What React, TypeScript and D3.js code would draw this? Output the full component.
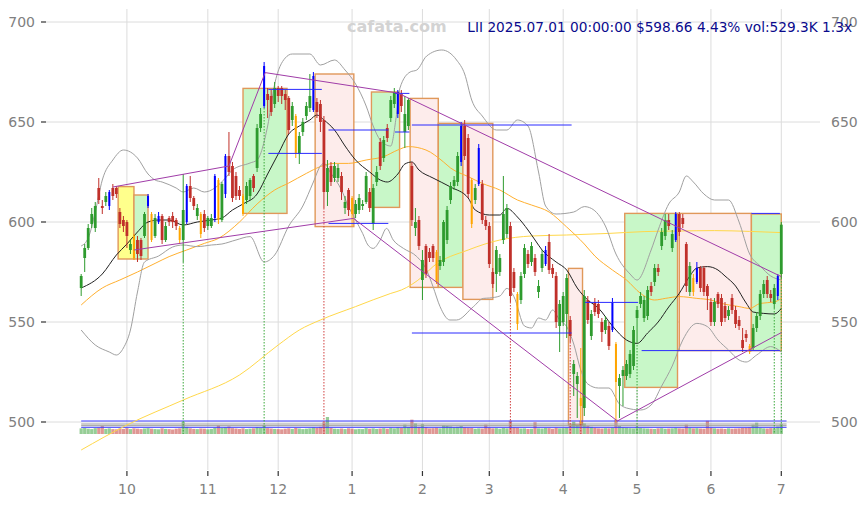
import React from "react";
import * as d3 from "d3";

// [open, high, low, close] per trading day, 2024-09-12 .. 2025-07-01
const ohlc: number[][] = [
[567,574,563,573],[582,589,575,587],[587,599,586,597],[599,607,597,604],[597,610,595,608],
[617,622,609,611],[608,611,604,607],[610,615,608,613],[608,616,606,615],[617,619,611,613],
[617,618,612,614],[605,607,597,599],[601,603,595,598],[600,601,587,593],[586,591,584,589],
[593,594,581,582],[591,593,580,584],[591,592,581,583],[593,605,592,604],[608,614,607,613],
[604,605,590,591],[593,604,592,602],[600,605,599,603],[603,604,589,591],[591,600,590,598],
[602,603,598,600],[603,605,597,600],[601,602,596,598],[597,598,589,591],[591,624,580,606],
[600,619,599,618],[618,623,610,612],[612,613,606,608],[603,609,601,607],[604,605,592,594],
[604,606,595,597],[598,603,596,602],[598,604,597,602],[602,624,600,623],[621,622,599,601],
[601,620,600,619],[614,634,612,633],[633,645,623,625],[628,630,610,612],[623,625,611,613],
[616,618,611,613],[613,614,603,604],[611,620,609,618],[613,622,611,621],[623,624,615,617],
[627,649,625,647],[647,657,645,654],[658,680,657,678],[664,667,652,661],[663,666,653,655],
[659,670,657,667],[667,668,660,663],[667,668,659,663],[664,666,656,661],[662,663,644,646],
[651,660,648,658],[653,654,632,634],[634,645,629,643],[645,652,643,650],[653,660,651,658],
[657,674,655,663],[656,675,655,673],[660,662,652,655],[659,661,645,650],[651,653,607,615],
[615,631,608,627],[628,630,618,620],[622,630,620,628],[622,629,620,627],[623,625,611,615],
[607,613,604,610],[616,617,603,606],[612,613,598,604],[604,611,602,609],[606,614,604,612],
[608,611,606,609],[610,625,609,623],[615,617,605,607],[599,619,596,617],[620,628,618,625],
[640,642,626,628],[632,643,630,641],[647,649,640,642],[652,663,650,661],[659,667,657,665],
[654,666,652,665],[664,666,655,658],[645,663,637,654],[648,662,646,661],[628,630,598,601],
[597,607,593,600],[601,603,586,588],[571,586,561,581],[588,589,572,574],[585,587,580,582],
[588,589,580,582],[585,586,569,570],[578,583,576,581],[580,601,578,600],[591,608,589,606],
[611,620,609,618],[618,623,616,621],[620,635,618,633],[630,650,628,648],[648,651,631,633],
[642,644,612,614],[621,622,597,599],[611,619,609,617],[619,639,618,637],[619,621,599,601],
[601,603,596,598],[598,600,577,579],[575,577,567,569],[574,588,565,586],[575,584,573,582],
[591,623,589,604],[594,609,592,607],[598,600,560,563],[575,577,565,567],[564,565,546,549],
[561,575,559,573],[574,589,572,587],[584,586,577,579],[580,590,578,588],[582,584,573,575],
[565,571,562,568],[577,586,575,584],[579,588,578,586],[590,594,574,576],[577,579,572,574],
[573,575,547,550],[548,561,535,559],[550,565,548,563],[554,574,542,572],[551,553,540,543],
[524,531,513,529],[519,525,502,523],[512,537,499,508],[507,566,503,563],[561,563,549,551],
[543,556,541,554],[560,562,553,555],[559,561,552,554],[550,552,540,545],[546,553,544,551],
[548,550,536,538],[546,562,545,560],[539,540,500,520],[518,524,502,522],[523,528,508,526],
[523,531,521,529],[524,536,522,534],[528,548,526,546],[552,558,540,556],[559,565,557,563],
[552,563,550,561],[553,568,551,566],[568,570,563,565],[570,579,568,577],[577,579,573,575],
[588,597,586,595],[593,604,591,601],[601,604,596,598],[587,596,585,594],[591,605,590,604],
[604,605,593,595],[602,604,597,599],[589,590,565,568],[565,580,563,578],[572,574,563,565],
[570,580,569,577],[577,578,565,567],[577,578,563,565],[568,569,556,563],[560,562,548,550],
[550,562,548,560],[564,565,557,559],[562,564,548,550],[558,560,550,552],[553,558,551,556],
[562,564,554,556],[556,558,547,549],[551,553,546,548],[541,547,535,537],[544,546,540,542],
[538,539,534,535],[537,549,536,547],[547,555,545,553],[553,566,551,564],[564,571,562,569],
[571,573,562,564],[564,566,560,562],[559,569,557,567],[563,574,561,573],[574,600,572,598.66]
];

// volume, thousands of shares
const volumes = [
300,320,280,260,310,330,420,270,300,260, 250,290,270,310,260,300,280,260,290,310,
280,260,250,300,270,260,240,280,300,650, 380,300,270,260,290,280,250,270,330,450,
320,350,400,310,290,270,300,260,280,300, 360,330,470,310,290,270,260,250,280,300,
270,320,290,260,280,300,350,320,380,620, 900,330,280,270,290,260,300,280,250,270,
260,310,280,300,270,290,310,280,330,300, 350,320,500,380,760,560,380,520,360,300,
310,330,300,450,430,400,360,380,420,350, 330,320,280,300,290,500,330,300,310,280,
320,300,700,350,330,290,300,270,280,620, 300,290,320,310,280,330,300,310,330,420,
650,480,700,560,420,380,330,300,290,310, 300,340,760,420,350,330,310,300,380,320,
300,290,280,270,300,310,280,290,300,330, 300,290,500,330,300,310,290,280,700,330,
300,280,290,270,300,280,290,300,320,330, 350,500,600,330,300,290,310,300,400,529.3
];

const blueCandles = [8,19,22,30,38,41,52,66,90,108,113,132,151,169,175,198];
const orangeCandles = [15,20,28,34,39,46,61,77,101,111,124,142,152,174,190];

const monthTickIdx = [13,36,56,77,97,116,137,158,179,199];
const monthTickLabels = ["10","11","12","1","2","3","4","5","6","7"];
const priceTicks = [500,550,600,650,700];

// indicator lines: [index, value]
const bbMid = [[0,567],[6,574],[10,583.5],[13,589],[16,595],[19,600],[22,601],[25,601],[29,598.5],[33,600],[37,601],[40,602],[43,606],[46,609],[50,614],[53,624],[56,634],[59,644],[62,648],[65,651],[67,653.5],[69,651],[72,646],[75,638],[78,631],[82,625],[85,621],[87,620],[90,624],[92,629],[94,630],[96,626],[100,622],[105,617.5],[110,612],[112,606],[116,603.5],[119,603.5],[121,606.8],[124,602.5],[127,596],[129,591],[131,586],[135,580],[138,576],[141,567],[144,561],[147,557],[151,548],[155,541],[158,539.3],[161,544.5],[164,550],[167,557.5],[170,564.3],[173,573],[175,577],[178,577.7],[181,576],[183,573],[186,568],[189,559.5],[191,555],[194,554.3],[197,554],[199,556.8]];
const bbUp = [[0,588],[2,592],[4,605],[6,621],[9,631],[12,636],[14,635],[16,632],[19,624],[21,621],[23,620],[27,617],[29,615],[32,617],[35,615],[38,617],[41,622],[43,626],[48,629.5],[50,631],[53,648],[55,669],[58,682],[60,684],[65,684],[68,678.5],[72,681],[75,676],[78,669],[81,658],[83,648],[85,641],[88,638],[89.5,652],[90.6,667],[93.5,675],[95.4,676],[98.2,683],[102.5,686],[106.7,681],[109,674],[111,661],[114,653],[118,646],[121,646],[124,651],[127,648],[130,625],[132,608],[135,604],[140,605],[143,607.7],[145,606.8],[149,598],[152,584],[156,574],[158,571],[162,586],[164,596],[167,609],[170,615],[172,623],[174,620],[177,614],[180,611],[184,611],[187,600],[190,584],[193,578],[196,573],[199,571]];
const bbLow = [[0,546],[4,538.5],[8,535],[10,533.5],[12,537],[14,546],[16,565],[18,580],[22,583],[26,587.5],[29,588.5],[33,587.7],[37,588.5],[40,589],[44,591],[48,592.7],[52,580],[55,583.5],[59,598],[63,608],[66,620],[68,628],[69,629.3],[71,624.3],[74,616],[76,607.7],[78,601],[80,594.3],[81.5,588.5],[83,586.8],[85,591],[86.8,596.8],[88.7,591],[91.6,586.8],[95.4,582.7],[98.2,576],[100,567.7],[102,557.7],[104.8,551],[106.7,551],[111.5,557.7],[114.3,561.8],[116,562],[119,563],[121,566.8],[123,562.7],[126,548],[128,547],[130,552],[132,551],[134,556],[136,551],[138,547.7],[140,539],[142,526],[144,519],[147,517],[150,517],[153,509],[155,507],[159,506],[162,508.5],[165,518],[168,528],[171,541],[175,549.3],[178,547.7],[181,541],[184,536],[187,531],[189,530],[192,533.5],[196,537.7],[199,535]];
const ma50 = [[0,558.5],[6,567],[11,571],[16,575],[21,579.3],[25,582.7],[30,586],[35,589.3],[39,591.8],[45,600],[50,609],[55,616],[59,619.5],[64,624.3],[68,627.7],[72,629.3],[76,629.3],[81,631],[86,632.7],[90,636],[93,637.7],[98,636],[103,630],[105,627],[110,622.7],[114,619.3],[119,616],[124,611],[128,608.5],[133,605],[138,597.5],[143,589],[146,583],[151,576],[155,571],[159,564.3],[163,561],[166,561.8],[170,562.7],[175,561.8],[179,561],[182,559.3],[187,557.7],[190,556.8],[193,559.3],[197,560],[199,561.8]];
const ma200 = [[0,486],[13,498.5],[29,511],[45,523.5],[56,538.5],[62,546],[68,551],[78,557.7],[88,564.3],[91,566],[97,572.7],[100,577.7],[110,586],[119,591],[128,593],[138,593.5],[150,594.3],[160,595.2],[170,595.5],[180,595.7],[190,595.3],[199,594.7]];

// boxes: [startIdx, endIdx, top, bottom, kind]
const boxes: [number, number, number, number, string][] = [
[10.5,15,617.7,581.5,"yellow"],[15,19,613.5,581.5,"green"],[46,58.5,666.8,604.3,"green"],
[66.5,77.5,674,597.7,"pink"],[82.5,90.5,665,607.3,"green"],[93.5,101.5,661.8,567.3,"pink"],
[101.5,108.5,649.3,567.3,"green"],[108.5,117,649.3,561.3,"pink"],[138.5,142.5,576.8,498.5,"pink"],
[154.5,169.5,604.3,517.3,"green"],[170,190.5,604.3,535.7,"pink"],[190.5,199,604,535.7,"green"]
];

// horizontal levels: [startIdx, endIdx, value]
const levels = [
[53.2,68.4,666.3],[53.2,68.4,634.3],[70.3,87.3,646],[70.3,87.3,599.3],[89.2,93.3,664.3],
[89.2,93.3,645],[94,139.4,648.5],[94,139.4,544.5],[143.2,158.3,559.8],[159.3,198.6,535.7],[190.5,198.6,604.3]
];

// trend lines: [i1, v1, i2, v2]
const trendLines = [
[9,617.5,42,628],[42,628,52.3,674.7],[52.3,674.7,90,664.5],[90,664.5,199,572.7],
[15,586,77.4,601.8],[77.4,601.8,152.4,500.5],[152.4,500.5,199,544.7]
];

// signal markers: [idx, kind]
const signals: [number, string][] = [[29,"g"],[52,"g"],[69,"r"],[122,"r"],[139,"r"],[142,"r"],[158,"g"],[197,"g"],[199,"g"]];

// volume reference levels (thousands)
const volLevels = [[689,"#3a3aff"],[530,"#9a9a9a"],[440,"#9a9a9a"],[355,"#3a3aff"]];

const GREEN = "#2e9b2e", RED = "#c0302a", BLUE = "#0000ff", ORANGE = "#ffa500";

export default function App() {
  const x = d3.scaleLinear().domain([-10, 210]).range([46, 820]);
  const y = d3.scaleLinear().domain([473, 706.5]).range([476, 9]);
  const volBase = 434;
  const vh = d3.scaleLinear().domain([0, 53]).range([0, 1]);
  const line = d3.line<number[]>().x(d => x(d[0])).y(d => y(d[1])).curve(d3.curveMonotoneX);
  const font = "DejaVu Sans, sans-serif";

  const boxFill: Record<string, string> = { green: "#c8f7c8", pink: "#fdeceb", yellow: "#ffff8c" };

  return (
    <svg width={867} height={505} style={{ position: "absolute", left: 0, top: 0, background: "#fff" }} fontFamily={font}>
      {/* grid */}
      {priceTicks.map(t => (
        <line key={"h" + t} x1={46} x2={820} y1={y(t)} y2={y(t)} stroke="#dcdcdc" strokeWidth={1} />
      ))}
      {monthTickIdx.map(t => (
        <line key={"v" + t} x1={x(t)} x2={x(t)} y1={9} y2={470} stroke="#dcdcdc" strokeWidth={1} />
      ))}
      {/* boxes */}
      {boxes.map((b, k) => (
        <rect key={"b" + k} x={x(b[0])} y={y(b[2])} width={x(b[1]) - x(b[0])} height={y(b[3]) - y(b[2])}
          fill={boxFill[b[4]]} stroke="#e0985a" strokeWidth={1.4} />
      ))}
      {/* volume */}
      {volumes.map((v, i) => {
        const up = ohlc[i][3] >= ohlc[i][0];
        const h = vh(v);
        return <rect key={"vol" + i} x={x(i) - 1.6} y={volBase - h} width={3.2} height={h}
          fill={up ? "rgba(46,155,46,0.5)" : "rgba(192,48,42,0.5)"} />;
      })}
      {volLevels.map((l, k) => (
        <line key={"vl" + k} x1={x(0)} x2={x(200.5)} y1={volBase - vh(l[0] as number)} y2={volBase - vh(l[0] as number)}
          stroke={l[1] as string} strokeWidth={1} />
      ))}
      {/* indicators */}
      <path d={line(ma200) || ""} fill="none" stroke="#ffd84a" strokeWidth={1} />
      <path d={line(ma50) || ""} fill="none" stroke="#ffb030" strokeWidth={1} />
      <path d={line(bbUp) || ""} fill="none" stroke="#a0a0a0" strokeWidth={1} />
      <path d={line(bbLow) || ""} fill="none" stroke="#a0a0a0" strokeWidth={1} />
      <path d={line(bbMid) || ""} fill="none" stroke="#222" strokeWidth={1} />
      {/* signals */}
      {signals.map(([i, k]) => (
        <line key={"s" + i} x1={x(i)} x2={x(i)} y1={y(ohlc[i][2])} y2={volBase} stroke={k === "g" ? "#3aa83a" : "#d04040"}
          strokeWidth={1} strokeDasharray="1.5,1.5" />
      ))}
      {/* candles */}
      {ohlc.map((c, i) => {
        const [o, h, l, cl] = c;
        let col = cl >= o ? GREEN : RED;
        let w = 2.8;
        if (blueCandles.includes(i)) { col = BLUE; w = 2; }
        if (orangeCandles.includes(i)) { col = ORANGE; w = 2; }
        const top = y(Math.max(o, cl));
        const bh = Math.max(1, Math.abs(y(o) - y(cl)));
        return (
          <g key={"c" + i}>
            <line x1={x(i)} x2={x(i)} y1={y(h)} y2={y(l)} stroke={col} strokeWidth={1} />
            <rect x={x(i) - w / 2} y={top} width={w} height={bh} fill={col} />
          </g>
        );
      })}
      {/* levels */}
      {levels.map((l, k) => (
        <line key={"l" + k} x1={x(l[0])} x2={x(l[1])} y1={y(l[2])} y2={y(l[2])} stroke="#2a2aff" strokeWidth={1} />
      ))}
      {/* trend lines */}
      {trendLines.map((t, k) => (
        <line key={"t" + k} x1={x(t[0])} y1={y(t[1])} x2={x(t[2])} y2={y(t[3])} stroke="#a03ca8" strokeWidth={1} />
      ))}
      {/* axes */}
      {priceTicks.map(t => (
        <g key={"yl" + t}>
          <line x1={41} x2={46} y1={y(t)} y2={y(t)} stroke="#333" strokeWidth={1.2} />
          <text x={35} y={y(t) + 5} textAnchor="end" fontSize={14} fill="#808080">{t}</text>
          <text x={831} y={y(t) + 5} textAnchor="start" fontSize={14} fill="#808080">{t}</text>
        </g>
      ))}
      {monthTickIdx.map((t, k) => (
        <g key={"xl" + t}>
          <line x1={x(t)} x2={x(t)} y1={471} y2={476} stroke="#333" strokeWidth={1.2} />
          <text x={x(t)} y={494} textAnchor="middle" fontSize={14} fill="#808080">{monthTickLabels[k]}</text>
        </g>
      ))}
      {/* header */}
      <text x={347} y={31.5} fontSize={16} fontWeight="bold" fill="#d3d3d3">cafata.com</text>
      <text x={852} y={31.5} textAnchor="end" fontSize={13.7} fill="#0a0a8c">LII 2025.07.01 00:00:00 $598.66 4.43% vol:529.3K 1.3x</text>
    </svg>
  );
}
